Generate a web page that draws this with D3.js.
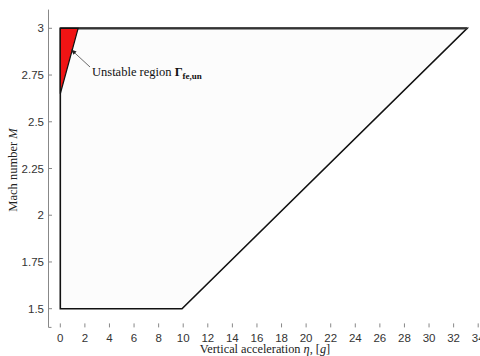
<!DOCTYPE html>
<html>
<head>
<meta charset="utf-8">
<script src="https://cdn.jsdelivr.net/npm/d3@7"></script>
<style>
  html, body { margin: 0; padding: 0; background: #fff; }
  svg { display: block; }
</style>
</head>
<body>
<svg id="chart" width="480" height="356"></svg>
<script>
// Flight envelope in (vertical acceleration, Mach) space
const envelopeEta  = [0, 9.9, 33.1, 0];
const envelopeMach = [1.5, 1.5, 3.0, 3.0];

// Unstable sub-region near zero load factor
const unstableEta  = [0, 1.45, 0];
const unstableMach = [3.0, 3.0, 2.65];

const xTicks = [0, 2, 4, 6, 8, 10, 12, 14, 16, 18, 20, 22, 24, 26, 28, 30, 32, 34];
const yTicks = [1.5, 1.75, 2, 2.25, 2.5, 2.75, 3];

const svg = d3.select("#chart");

const x = d3.scaleLinear().domain([0, 34]).range([60.3, 478.2]);
const y = d3.scaleLinear().domain([1.5, 3]).range([308.7, 28.3]);

const sans = "'Liberation Sans', Arial, sans-serif";
const serif = "'Liberation Serif', 'Times New Roman', serif";

const envelope = envelopeEta.map((e, i) => [x(e), y(envelopeMach[i])]);
const unstable = unstableEta.map((e, i) => [x(e), y(unstableMach[i])]);

// envelope patch
svg.append("path")
  .attr("d", d3.line()(envelope) + "Z")
  .attr("fill", "#fcfcfc")
  .attr("stroke", "#111")
  .attr("stroke-width", 1.6)
  .attr("stroke-linejoin", "miter");

// top edge drawn slightly heavier
svg.append("line")
  .attr("x1", x(0)).attr("x2", x(33.1))
  .attr("y1", y(3)).attr("y2", y(3))
  .attr("stroke", "#333").attr("stroke-width", 2.2);

// unstable patch
svg.append("path")
  .attr("d", d3.line()(unstable) + "Z")
  .attr("fill", "#f01414")
  .attr("stroke", "#111")
  .attr("stroke-width", 1.2);

// y axis (offset, inward ticks)
const yAxis = svg.append("g").attr("transform", "translate(48.5,0)");
yAxis.append("line")
  .attr("x1", 0).attr("x2", 0)
  .attr("y1", y(3.1)).attr("y2", y(1.4))
  .attr("stroke", "#888").attr("stroke-width", 1);
yAxis.append("line")
  .attr("x1", 0).attr("x2", 3)
  .attr("y1", y(1.4)).attr("y2", y(1.4))
  .attr("stroke", "#888").attr("stroke-width", 1);
yAxis.selectAll("line.tick").data(yTicks).enter().append("line")
  .attr("class", "tick")
  .attr("x1", 0).attr("x2", 3.5)
  .attr("y1", d => y(d)).attr("y2", d => y(d))
  .attr("stroke", "#888");
yAxis.selectAll("text").data(yTicks).enter().append("text")
  .attr("x", -4.5).attr("y", d => y(d))
  .attr("dy", "0.36em")
  .attr("text-anchor", "end")
  .attr("font-family", sans).attr("font-size", 11.5)
  .attr("fill", "#333")
  .text(d => d);

// x axis: tick marks only
const xAxis = svg.append("g");
const xBase = y(1.4);
xAxis.selectAll("line").data(xTicks).enter().append("line")
  .attr("x1", d => x(d)).attr("x2", d => x(d))
  .attr("y1", xBase - 4).attr("y2", xBase)
  .attr("stroke", "#888");
xAxis.selectAll("text").data(xTicks).enter().append("text")
  .attr("x", d => x(d)).attr("y", 341.5)
  .attr("text-anchor", "middle")
  .attr("font-family", sans).attr("font-size", 11.5)
  .attr("fill", "#333")
  .text(d => d);

// axis titles
const xt = svg.append("text")
  .attr("x", 265).attr("y", 353)
  .attr("text-anchor", "middle")
  .attr("font-family", serif).attr("font-size", 12.3)
  .attr("fill", "#222");
xt.append("tspan").text("Vertical acceleration ");
xt.append("tspan").attr("font-style", "italic").text("η");
xt.append("tspan").text(", [");
xt.append("tspan").attr("font-style", "italic").text("g");
xt.append("tspan").text("]");

const yt = svg.append("text")
  .attr("transform", "translate(17,170) rotate(-90)")
  .attr("text-anchor", "middle")
  .attr("font-family", serif).attr("font-size", 12.5)
  .attr("fill", "#222");
yt.append("tspan").text("Mach number ");
yt.append("tspan").attr("font-style", "italic").text("M");

// annotation arrow
const tail = [90, 67];
const head = [x(0.9), y(2.885)];
svg.append("defs").append("marker")
  .attr("id", "ah").attr("viewBox", "0 0 10 10")
  .attr("refX", 9).attr("refY", 5)
  .attr("markerWidth", 7).attr("markerHeight", 7)
  .attr("orient", "auto")
  .append("path").attr("d", "M0,1 L10,5 L0,9 Z").attr("fill", "#222");
svg.append("line")
  .attr("x1", tail[0]).attr("y1", tail[1])
  .attr("x2", head[0]).attr("y2", head[1])
  .attr("stroke", "#444").attr("stroke-width", 0.8)
  .attr("marker-end", "url(#ah)");

const ann = svg.append("text")
  .attr("x", 92).attr("y", 76)
  .attr("font-family", serif).attr("font-size", 12.5)
  .attr("fill", "#111");
ann.append("tspan").text("Unstable region ");
ann.append("tspan").attr("font-weight", "bold").text("Γ");
ann.append("tspan").attr("font-weight", "bold").attr("font-size", 9).attr("dy", 2.5).text("fe,un");
</script>
</body>
</html>
